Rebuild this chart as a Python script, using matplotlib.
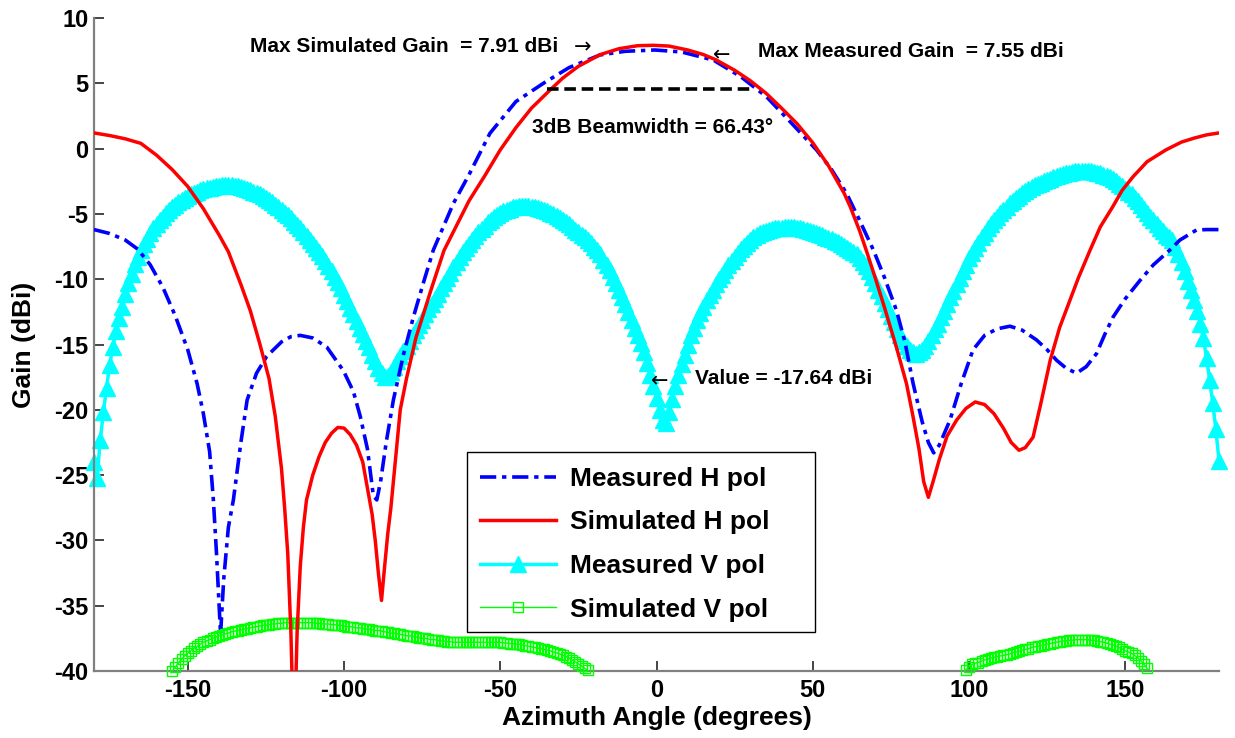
import numpy as np
import matplotlib
matplotlib.use("Agg")
import matplotlib.pyplot as plt
from matplotlib.patches import Rectangle

plt.rcParams['font.family'] = ['Liberation Sans', 'DejaVu Sans']
plt.rcParams['font.weight'] = 'bold'
plt.rcParams['axes.unicode_minus'] = False

# ---------------- data ----------------
# Simulated H pol (red)
red_x = [-180, -175, -170, -165, -160, -155, -150, -145, -140, -137,
         -133, -130, -127, -124, -122, -120, -119, -118, -117, -116,
         -115, -114, -113, -112, -110, -108, -106, -104, -102, -100,
         -98, -96, -94, -92.5, -91, -90, -89, -88, -87, -86,
         -85, -84, -82, -80, -77, -72, -68, -60, -55, -50,
         -45, -40, -34, -30, -25, -18, -12, -6, -1, 4,
         10, 15, 19, 25, 30, 35, 40, 45, 50, 55,
         60, 62, 65, 67, 70, 73, 77, 80, 82, 84,
         85.5, 87, 88.5, 90.5, 93, 96, 99, 102, 105, 108,
         111, 113.5, 116, 118, 120.5, 123, 126, 129, 132, 135,
         138.7, 142, 146, 149, 152.5, 157, 163, 168, 172, 176,
         180]
red_y = [1.2, 1.0, 0.75, 0.4, -0.5, -1.6, -2.9, -4.6, -6.6, -7.9,
         -10.4, -12.4, -14.9, -17.6, -20.5, -24.5, -27.5, -31.0, -37.0, -46.0,
         -37.0, -32.0, -29.0, -26.9, -25.0, -23.6, -22.5, -21.8, -21.35, -21.4,
         -21.9, -22.7, -24.0, -26.0, -28.0, -30.0, -32.5, -34.6, -32.0, -29.5,
         -27.5, -25.0, -20.0, -17.6, -14.5, -10.7, -7.8, -4.0, -2.1, -0.1,
         1.6, 3.1, 4.5, 5.4, 6.3, 7.2, 7.65, 7.88, 7.91, 7.85,
         7.55, 7.2, 6.8, 6.0, 5.2, 4.25, 3.1, 1.9, 0.45, -1.3,
         -3.4, -4.45, -6.3, -7.7, -9.9, -12.2, -15.4, -18.0, -20.4, -23.0,
         -25.5, -26.7, -25.5, -23.8, -22.0, -20.8, -19.9, -19.4, -19.6, -20.3,
         -21.4, -22.5, -23.1, -22.9, -22.1, -19.5, -16.2, -13.7, -11.8, -9.9,
         -7.8, -6.0, -4.45, -3.2, -2.15, -1.0, -0.1, 0.5, 0.8, 1.05,
         1.2]

# Measured H pol (blue)
blue_x = [-180, -175, -170, -166, -162, -158, -154, -150, -147, -145,
          -143, -141.8, -140.8, -139.5, -138.5, -137, -135.4, -133, -131, -128,
          -124.7, -120, -117, -114, -110, -105.5, -100.2, -97, -94.8, -92.5,
          -90.6, -89.5, -88.3, -86.5, -84.2, -81, -77.8, -74.5, -71.4, -65,
          -60, -53.3, -45, -36.2, -28, -18.1, -10, -0.5, 8, 18.2,
          27, 35.2, 43, 51.2, 56, 60.8, 65, 69.4, 73, 76.8,
          79.5, 82.1, 85, 87, 88.7, 90.5, 93.9, 97.5, 101.3, 105,
          109, 113.1, 117, 121.6, 125, 128, 131, 134.4, 137.5, 140.8,
          143.5, 146.1, 150, 154.7, 159, 164.3, 167.5, 172.8, 176, 180]
blue_y = [-6.2, -6.5, -7.0, -7.7, -8.9, -10.6, -12.8, -15.4, -18.0, -20.3,
          -23.2, -26.9, -31.0, -37.2, -33.0, -29.0, -26.9, -22.5, -19.25, -17.2,
          -15.9, -14.8, -14.4, -14.3, -14.5, -15.2, -17.0, -18.6, -20.5, -23.0,
          -26.6, -26.9, -25.5, -22.5, -19.25, -15.8, -12.9, -10.2, -7.76, -4.2,
          -2.0, 1.17, 3.6, 5.0, 6.2, 7.17, 7.45, 7.55, 7.4, 6.78,
          5.5, 3.97, 2.0, -0.1, -1.6, -3.42, -5.5, -7.76, -9.9, -12.4,
          -14.8, -17.97, -20.9, -22.5, -23.3, -22.7, -20.8, -18.0, -15.4, -14.3,
          -13.8, -13.6, -13.9, -14.65, -15.4, -16.2, -16.8, -17.2, -16.7, -15.7,
          -14.2, -12.9, -11.5, -10.1, -8.9, -7.76, -7.0, -6.23, -6.2, -6.2]

# Measured V pol (cyan), one value per degree from -180 to 180
cyan_x = np.arange(-180, 181, 1)
cyan_y = [
    -24.0, -25.2, -22.3, -20.2, -18.3, -16.6, -15.2, -14.0, -13.0, -12.1,
    -11.1, -10.3, -9.6, -8.8, -8.3, -7.8, -7.3, -6.9, -6.5, -6.1,
    -5.8, -5.5, -5.2, -4.95, -4.7, -4.5, -4.3, -4.1, -3.95, -3.8,
    -3.65, -3.5, -3.4, -3.3, -3.2, -3.1, -3.05, -3.0, -2.95, -2.9,
    -2.85, -2.8, -2.8, -2.8, -2.8, -2.85, -2.9, -2.95, -3.0, -3.1,
    -3.2, -3.3, -3.4, -3.5, -3.65, -3.8, -3.95, -4.1, -4.3, -4.5,
    -4.7, -4.9, -5.1, -5.35, -5.6, -5.85, -6.1, -6.4, -6.7, -7.0,
    -7.3, -7.6, -7.9, -8.25, -8.6, -9.0, -9.4, -9.8, -10.2, -10.7,
    -11.2, -11.7, -12.2, -12.7, -13.2, -13.7, -14.2, -14.7, -15.2, -15.8,
    -16.3, -16.8, -17.2, -17.5, -17.4, -17.1, -16.7, -16.3, -15.9, -15.5,
    -15.1, -14.7, -14.3, -13.9, -13.5, -13.1, -12.7, -12.3, -11.9, -11.5,
    -11.1, -10.7, -10.3, -9.9, -9.5, -9.1, -8.7, -8.3, -7.95, -7.6,
    -7.3, -7.0, -6.7, -6.4, -6.15, -5.9, -5.65, -5.45, -5.25, -5.05,
    -4.9, -4.8, -4.7, -4.6, -4.5, -4.45, -4.4, -4.4, -4.4, -4.4,
    -4.45, -4.5, -4.55, -4.6, -4.7, -4.8, -4.9, -5.0, -5.15, -5.3,
    -5.45, -5.6, -5.8, -6.0, -6.2, -6.4, -6.6, -6.8, -7.0, -7.25,
    -7.5, -7.8, -8.1, -8.5, -8.9, -9.3, -9.8, -10.3, -10.8, -11.35,
    -11.9, -12.5, -13.1, -13.7, -14.3, -14.9, -15.6, -16.4, -17.3, -18.2,
    -19.1, -20.0, -20.8, -21.0, -20.2, -19.2, -18.2, -17.3, -16.5, -15.8,
    -15.0, -14.3, -13.7, -13.1, -12.6, -12.1, -11.6, -11.2, -10.8, -10.4,
    -10.0, -9.65, -9.3, -8.95, -8.6, -8.3, -8.0, -7.7, -7.45, -7.2,
    -7.0, -6.8, -6.65, -6.5, -6.4, -6.3, -6.2, -6.15, -6.1, -6.05,
    -6.05, -6.0, -6.0, -6.0, -6.0, -6.05, -6.1, -6.15, -6.2, -6.3,
    -6.35, -6.45, -6.55, -6.65, -6.75, -6.85, -6.95, -7.05, -7.15, -7.3,
    -7.45, -7.6, -7.75, -7.9, -8.1, -8.35, -8.65, -9.0, -9.4, -9.85,
    -10.3, -10.8, -11.3, -11.8, -12.3, -12.8, -13.3, -13.8, -14.3, -14.75,
    -15.1, -15.4, -15.6, -15.7, -15.6, -15.4, -15.1, -14.7, -14.3, -13.85,
    -13.4, -12.9, -12.4, -11.9, -11.4, -10.9, -10.4, -9.9, -9.4, -8.9,
    -8.4, -8.0, -7.6, -7.2, -6.8, -6.45, -6.1, -5.8, -5.5, -5.2,
    -4.95, -4.7, -4.45, -4.2, -4.0, -3.8, -3.6, -3.4, -3.25, -3.1,
    -2.95, -2.8, -2.7, -2.6, -2.5, -2.4, -2.3, -2.2, -2.1, -2.0,
    -1.95, -1.9, -1.85, -1.8, -1.75, -1.7, -1.7, -1.7, -1.7, -1.75,
    -1.8, -1.85, -1.9, -2.0, -2.1, -2.2, -2.35, -2.5, -2.7, -2.9,
    -3.1, -3.3, -3.5, -3.75, -4.0, -4.3, -4.6, -4.9, -5.2, -5.5,
    -5.8, -6.05, -6.3, -6.6, -6.8, -7.0, -7.5, -8.1, -8.7, -9.4,
    -10.1, -10.8, -11.6, -12.4, -13.4, -14.5, -16.0, -17.7, -19.5, -21.5,
    -23.9]

# Simulated V pol (green), two visible segments (rest below -40 dBi)
green_x1 = np.arange(-155, -21, 1)
green_y1 = [
    -40.0, -39.7, -39.4, -39.1, -38.85, -38.65, -38.45, -38.25, -38.1, -37.95,
    -37.8, -37.7, -37.6, -37.5, -37.4, -37.3, -37.25, -37.15, -37.1, -37.0,
    -36.95, -36.9, -36.85, -36.8, -36.75, -36.7, -36.65, -36.6, -36.55, -36.5,
    -36.5, -36.45, -36.4, -36.4, -36.35, -36.35, -36.3, -36.3, -36.3, -36.3,
    -36.3, -36.3, -36.3, -36.3, -36.3, -36.3, -36.35, -36.35, -36.4, -36.4,
    -36.4, -36.45, -36.45, -36.5, -36.5, -36.55, -36.6, -36.6, -36.65, -36.7,
    -36.7, -36.75, -36.8, -36.8, -36.85, -36.9, -36.9, -36.95, -37.0, -37.05,
    -37.1, -37.1, -37.15, -37.2, -37.25, -37.3, -37.3, -37.35, -37.4, -37.45,
    -37.5, -37.5, -37.55, -37.6, -37.6, -37.65, -37.7, -37.7, -37.75, -37.75,
    -37.8, -37.8, -37.8, -37.8, -37.8, -37.8, -37.8, -37.8, -37.8, -37.8,
    -37.8, -37.8, -37.8, -37.8, -37.8, -37.8, -37.85, -37.85, -37.9, -37.9,
    -37.95, -37.95, -38.0, -38.05, -38.1, -38.15, -38.2, -38.25, -38.3, -38.35,
    -38.4, -38.45, -38.55, -38.6, -38.7, -38.8, -38.9, -39.0, -39.15, -39.3,
    -39.45, -39.6, -39.8, -39.95]
green_x2 = np.arange(99, 158, 1)
green_y2 = [
    -39.9, -39.7, -39.5, -39.4, -39.35, -39.25, -39.15, -39.1, -39.0, -38.95,
    -38.9, -38.85, -38.8, -38.75, -38.7, -38.6, -38.55, -38.5, -38.4, -38.35,
    -38.3, -38.2, -38.15, -38.1, -38.05, -38.0, -37.95, -37.9, -37.85, -37.8,
    -37.75, -37.7, -37.7, -37.65, -37.65, -37.6, -37.6, -37.6, -37.6, -37.6,
    -37.65, -37.65, -37.7, -37.75, -37.8, -37.85, -37.95, -38.0, -38.1, -38.2,
    -38.3, -38.45, -38.55, -38.65, -38.8, -39.0, -39.2, -39.5, -39.8]

# 3 dB beamwidth marker
beam_edges = [-34.9, 31.5]
beam_level = 4.6

x_ticks = [-150, -100, -50, 0, 50, 100, 150]
y_ticks = [-40, -35, -30, -25, -20, -15, -10, -5, 0, 5, 10]

# ---------------- figure ----------------
W, H = 1235, 738
fig = plt.figure(figsize=(W / 100, H / 100), dpi=100)
ax = fig.add_axes([94 / W, 67 / H, 1125 / W, 653 / H])

ax.plot(cyan_x, cyan_y, color='#00ffff', lw=2.5, marker='^', ms=12,
        mfc='#00ffff', mec='#00ffff', label='Measured V pol', zorder=2,
        clip_on=False)
ax.plot(blue_x, blue_y, color='#0000ff', lw=2.6, dashes=(4.5, 1.6, 1.2, 1.6),
        label='Measured H pol', zorder=3)
ax.plot(red_x, red_y, color='#ff0000', lw=2.5, label='Simulated H pol', zorder=4)
green_x = np.concatenate([green_x1, [np.nan], green_x2])
green_y = np.concatenate([green_y1, [np.nan], green_y2])
ax.plot(green_x, green_y, color='#00ff00', lw=1.0, marker='s', ms=7,
        mfc='none', mec='#00ff00', mew=1.0, label='Simulated V pol', zorder=3,
        clip_on=False)

ax.plot(beam_edges, [beam_level, beam_level], color='black', lw=2.6,
        dashes=(3.2, 1.6), zorder=5)

ax.set_xlim(-180, 180)
ax.set_ylim(-40, 10)
ax.set_xticks(x_ticks)
ax.set_yticks(y_ticks)
ax.tick_params(axis='both', direction='in', length=7.5, width=1.2,
               color='#262626', labelsize=17)
ax.tick_params(axis='x', pad=6)
ax.tick_params(axis='y', pad=4)
for lab in ax.get_xticklabels() + ax.get_yticklabels():
    lab.set_fontweight('bold')
for s in ['top', 'right']:
    ax.spines[s].set_visible(False)
for s in ['left', 'bottom']:
    ax.spines[s].set_color('#808080')
    ax.spines[s].set_linewidth(1.6)

ax.set_xlabel('Azimuth Angle (degrees)', fontsize=19, fontweight='bold')
ax.xaxis.label.set_va('center')
ax.xaxis.set_label_coords(0.5, (671 - 718) / 653)
ax.set_ylabel('Gain (dBi)', fontsize=19, fontweight='bold')
ax.yaxis.label.set_va('center')
ax.yaxis.set_label_coords((24 - 94) / 1125, 0.5)

# annotations
ann = dict(fontsize=15, fontweight='bold', va='center', ha='left')
arr = dict(fontsize=15, fontweight='normal', va='center', ha='left',
           family='DejaVu Sans')
ax.text(-130.0, 7.78, 'Max Simulated Gain  = 7.91 dBi', **ann)
ax.text(-26.5, 7.78, '\u2192', **arr)
ax.text(18.0, 7.1, '\u2190', **arr)
ax.text(32.5, 7.4, 'Max Measured Gain  = 7.55 dBi', **ann)
ax.text(-39.8, 1.58, '3dB Beamwidth = 66.43\u00b0', **ann)
ax.text(-1.6, -17.85, '\u2190', **arr)
ax.text(12.3, -17.57, 'Value = -17.64 dBi', **ann)

# legend box (drawn as figure-pixel rectangle, MATLAB style)
ax.add_patch(Rectangle((467 / W, 1 - 632 / H), 348 / W, 180 / H,
                       transform=fig.transFigure, facecolor='white',
                       edgecolor='black', lw=1.0, zorder=9, clip_on=False))
handles, labels = ax.get_legend_handles_labels()
order = ['Measured H pol', 'Simulated H pol', 'Measured V pol', 'Simulated V pol']
hmap = dict(zip(labels, handles))
leg = ax.legend([hmap[k] for k in order], order, loc='upper left',
                bbox_to_anchor=(472 / W, 1 - 459 / H),
                bbox_transform=fig.transFigure,
                prop={'weight': 'bold', 'size': 19}, frameon=False,
                borderaxespad=0, borderpad=0.3, labelspacing=0.74,
                handlelength=2.9, handletextpad=0.5, numpoints=1)
leg.set_zorder(10)

fig.savefig('out.png', dpi=100)
